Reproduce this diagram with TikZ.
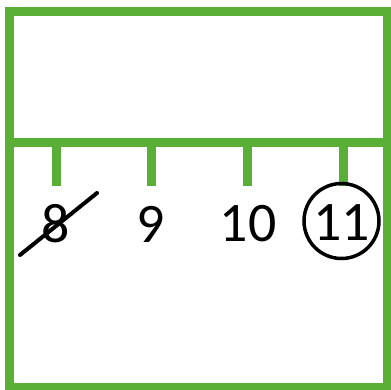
\documentclass[tikz,border=0pt]{standalone}
\usepackage{fontspec}
\setmainfont{Carlito}
\definecolor{rulegreen}{RGB}{90,176,54}
\tikzset{
  greenline/.style={rulegreen, line width=9bp},
  digit/.style={font=\fontsize{56}{56}\selectfont, inner sep=0pt},
}
\begin{document}
\begin{tikzpicture}[x=1bp,y=-1bp]
    \useasboundingbox (0,0) rectangle (391,390);
    \draw[greenline] (9.5,11.5) rectangle (387,387.5);
    \draw[greenline] (9.5,142.5) -- (387,142.5);
    \foreach \x in {56,151,247,343}
        \draw[greenline] (\x,142.5) -- (\x,186);
    \node[digit] (n8) at (56,224) {8};
    \node[digit] (n9) at (150.5,224) {9};
    \node[digit] (n10) at (248,224) {10};
    \node[digit] (n11) at (341.5,223) {11};
    \node[draw, circle, line width=3.5bp, minimum size=75bp] (ring) at (341.5,221) {};
    \draw[line width=4bp, line cap=round] (20,255) -- (97,193);
\end{tikzpicture}
\end{document}
